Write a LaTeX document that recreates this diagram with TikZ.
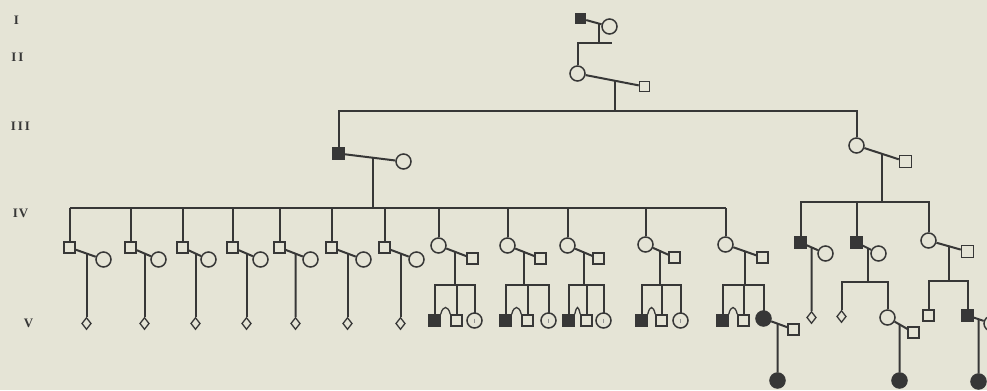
\documentclass[tikz,border=0pt]{standalone}
\usepackage{fontspec}
\setmainfont{Liberation Serif}
\usetikzlibrary{shapes.geometric,calc}
\definecolor{bg}{RGB}{229,228,214}
\definecolor{ink}{RGB}{55,55,55}
\begin{document}
\begin{tikzpicture}[x=1bp,y=-1bp,
  line/.style={draw=ink,line width=2bp},
  male/.style={rectangle,draw=ink,line width=1.5bp,minimum size=11bp,inner sep=0pt,fill=bg},
  female/.style={circle,draw=ink,line width=1.5bp,minimum size=15bp,inner sep=0pt,fill=bg},
  aff/.style={fill=ink},
  unk/.style={diamond,draw=ink,line width=1.3bp,minimum width=9.5bp,minimum height=12bp,inner sep=0pt,fill=bg},
  gen/.style={font=\fontsize{13}{15}\selectfont\bfseries,text=ink},
  tick/.style={draw=ink!55,line width=0.7bp},
  twin/.style={draw=ink,line width=1.3bp}
]
\fill[bg] (0,0) rectangle (987,390);
\useasboundingbox (0,0) rectangle (987,390);
\clip (0,0) rectangle (987,390);
\begin{scope}[shift={(0.5,0.5)}]

% generation labels
\node[gen] (gI)   at (16,20)  {I};
\node[gen] (gII)  at (17,57)  {I\kern2ptI};
\node[gen] (gIII) at (20,126) {I\kern2ptI\kern2ptI};
\node[gen] (gIV)  at (20,213) {I\kern1ptV};
\node[gen] (gV)   at (28,323) {V};

% sibship levels
\coordinate (sI)   at (611,42);
\coordinate (sII)  at (0,110);
\coordinate (sIV)  at (0,207);
\coordinate (sIVr) at (0,201);
\coordinate (sV)   at (0,284);

% ---------- Generation I ----------
\node[male,aff,minimum size=10bp] (I1) at (580,18) {};
\node[female] (I2) at (609,26) {};
\draw[line] (I1) -- (I2);
\path (I1.center) -- (I2.center) coordinate[pos={18/29}] (mI);

% ---------- Generation II ----------
\node[female] (II1) at (577,73) {};
\node[male,minimum size=10bp] (II2) at (644,86) {};
\draw[line] (mI) -- (mI |- sI);
\draw[line] (II1.north) -- (II1 |- sI) -- (sI);
\draw[line] (II1) -- (II2);
\path (II1.center) -- (II2.center) coordinate[pos={37/67}] (mII);

% ---------- Generation III ----------
\node[male,aff] (III1) at (338,153) {};
\node[female] (III2) at (403,161) {};
\node[female] (III3) at (856,145) {};
\node[male,minimum size=12bp] (III4) at (905,161) {};
\draw[line] (mII) -- (mII |- sII);
\draw[line] (III1.north) -- (III1 |- sII) -- (III3 |- sII) -- (III3.north);
\draw[line] (III1) -- (III2);
\draw[line] (III3) -- (III4);
\path (III1.center) -- (III2.center) coordinate[pos={34/65}] (mIIIa);
\path (III3.center) -- (III4.center) coordinate[pos={25/49}] (mIIIb);
\draw[line] (mIIIa) -- (mIIIa |- sIV);
\draw[line] (mIIIb) -- (mIIIb |- sIVr);

% ---------- Generation IV, left sibship: sons ----------
\foreach \i/\sx/\wx/\vx in {1/69/103/86,2/130/158/144,3/182/208/195,4/232/260/246,5/279/310/295,6/331/363/347,7/384/416/400}{
  \node[male] (s\i) at (\sx,247) {};
  \node[female] (w\i) at (\wx,259) {};
  \draw[line] (s\i.north) -- (s\i |- sIV);
  \draw[line] (s\i) -- (w\i);
  \path (s\i.center) -- (w\i.center) coordinate[pos={(\vx-\sx)/(\wx-\sx)}] (ms\i);
  \node[unk] (u\i) at (\vx,323) {};
  \draw[line] (ms\i) -- (u\i.north);
}

% ---------- Generation IV, left sibship: daughters ----------
\foreach \i/\dx/\dy/\hx/\hy/\vx/\ax/\bx/\cx in {1/438/245/472/258/454/434/456/474,2/507/245/540/258/523/505/527/548,3/567/245/598/258/583/568/586/603,4/645/244/674/257/659/641/661/680,5/725/244/762/257/744/722/743/763}{
  \node[female] (d\i) at (\dx,\dy) {};
  \node[male,minimum size=11bp] (h\i) at (\hx,\hy) {};
  \draw[line] (d\i.north) -- (d\i |- sIV);
  \draw[line] (d\i) -- (h\i);
  \path (d\i.center) -- (h\i.center) coordinate[pos={(\vx-\dx)/(\hx-\dx)}] (md\i);
  \node[male,aff,minimum size=11bp] (ka\i) at (\ax,320) {};
  \node[male,minimum size=11bp] (kb\i) at (\bx,320) {};
  \draw[line] (md\i) -- (md\i |- sV);
  \draw[line] (ka\i.north) -- (ka\i |- sV) -- (\cx,284) -- (\cx,312);
  \draw[line] (kb\i.north) -- (kb\i |- sV);
  \draw[twin] (ka\i.north east) .. controls ($(ka\i.north east)+(2,-9)$) and ($(kb\i.north west)+(-2,-9)$) .. (kb\i.north west);
}
\draw[line] (s1 |- sIV) -- (d5 |- sIV);

% third children of the daughters' families
\foreach \i/\cx in {1/474,2/548,3/603,4/680}{
  \node[female] (kc\i) at (\cx,320) {};
  \draw[tick] (\cx,318) -- (\cx,322.5);
}
\node[female,aff] (kc5) at (763,318) {};
\node[male,minimum size=11bp] (kc5h) at (793,329) {};
\draw[line] (kc5) -- (kc5h);
\path (kc5.center) -- (kc5h.center) coordinate[pos={14/30}] (mkc5);
\node[female,aff] (g5) at (777,380) {};
\draw[line] (mkc5) -- (g5.north);

% ---------- Generation IV, right sibship ----------
\node[male,aff] (r1) at (800,242) {};
\node[female] (r1w) at (825,253) {};
\node[male,aff] (r2) at (856,242) {};
\node[female] (r2w) at (878,253) {};
\node[female] (r3) at (928,240) {};
\node[male,minimum size=12bp] (r3h) at (967,251) {};
\draw[line] (r1.north) -- (r1 |- sIVr) -- (r3 |- sIVr) -- (r3.north);
\draw[line] (r2.north) -- (r2 |- sIVr);
\draw[line] (r1) -- (r1w);
\draw[line] (r2) -- (r2w);
\draw[line] (r3) -- (r3h);
\path (r1.center) -- (r1w.center) coordinate[pos={11/25}] (mr1);
\path (r2.center) -- (r2w.center) coordinate[pos={11/22}] (mr2);
\path (r3.center) -- (r3h.center) coordinate[pos={20/39}] (mr3);

% family r1
\node[unk] (ru1) at (811,317) {};
\draw[line] (mr1) -- (ru1.north);

% family r2
\coordinate (sr2) at (0,281);
\node[unk] (ru2) at (841,316) {};
\node[female] (rc2) at (887,317) {};
\draw[line] (mr2) -- (mr2 |- sr2);
\draw[line] (ru2.north) -- (ru2 |- sr2) -- (rc2 |- sr2) -- (rc2.north);
\node[male,minimum size=11bp] (rc2h) at (913,332) {};
\draw[line] (rc2) -- (rc2h);
\path (rc2.center) -- (rc2h.center) coordinate[pos={12/26}] (mrc2);
\node[female,aff] (g6) at (899,380) {};
\draw[line] (mrc2) -- (g6.north);

% family r3
\coordinate (sr3) at (0,280);
\node[male] (rc3a) at (928,315) {};
\node[male,aff] (rc3b) at (967,315) {};
\draw[line] (mr3) -- (mr3 |- sr3);
\draw[line] (rc3a.north) -- (rc3a |- sr3) -- (rc3b |- sr3) -- (rc3b.north);
\node[female] (rc3w) at (991,323) {};
\draw[line] (rc3b) -- (rc3w);
\path (rc3b.center) -- (rc3w.center) coordinate[pos={11/24}] (mrc3);
\node[female,aff] (g7) at (978,381) {};
\draw[line] (mrc3) -- (g7.north);
\end{scope}
\end{tikzpicture}
\end{document}
